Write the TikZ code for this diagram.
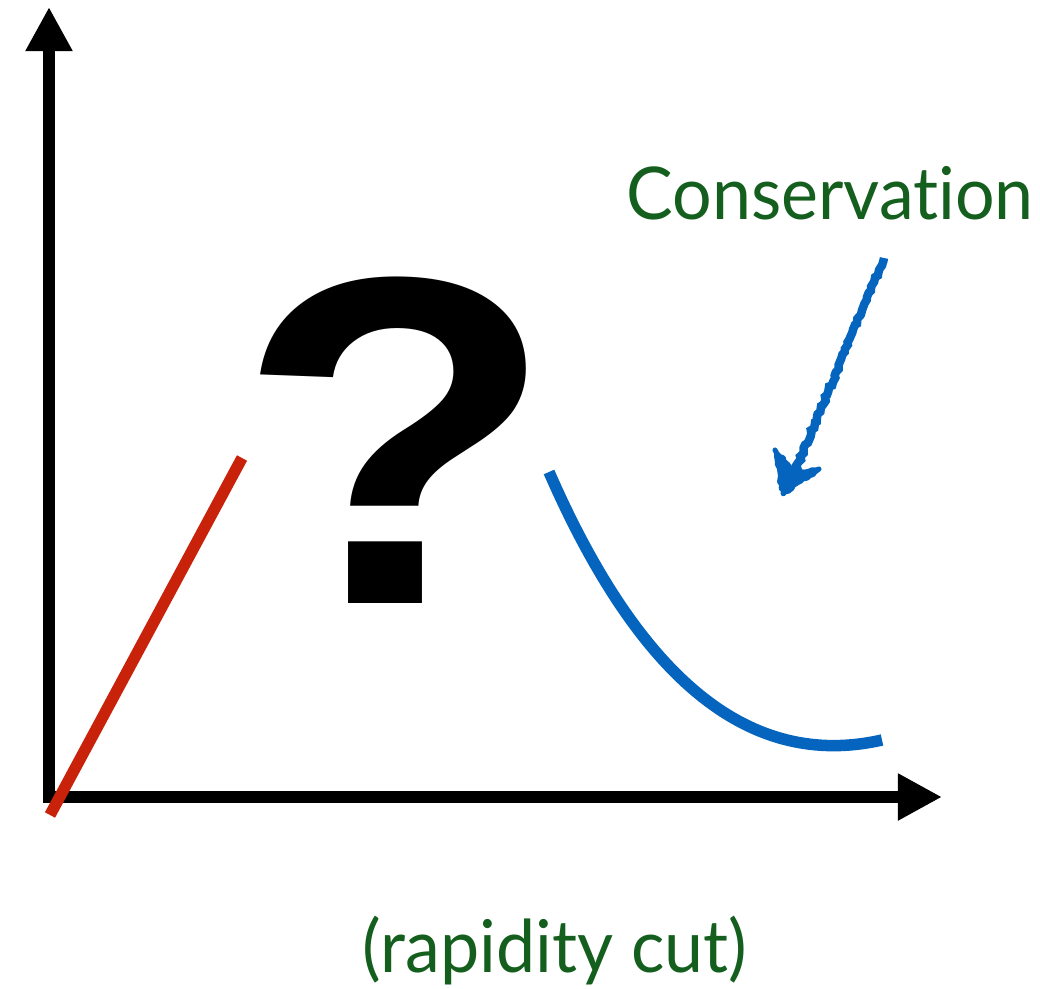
\documentclass[tikz,border=0pt]{standalone}
\usepackage{fontspec}
\newfontfamily\gillfont[Ligatures=NoCommon]{Lato}
\newfontfamily\qfont{Liberation Sans}
\definecolor{vert}{RGB}{20,94,30}
\definecolor{rouge}{RGB}{200,35,10}
\definecolor{bleu}{RGB}{5,101,190}
\usetikzlibrary{arrows.meta,decorations.pathmorphing}

\begin{document}
\begin{tikzpicture}[x=0.01cm,y=-0.01cm,
	axe/.style={line width=1.15mm,line join=miter,{Triangle[length=4.4mm,width=4.4mm]}-{Triangle[length=4.4mm,width=4.4mm]}},
	courbe/.style={line width=1.15mm},
	crayon/.style={bleu,decorate,decoration={random steps,segment length=1pt,amplitude=0.35pt}},
	titre/.style={font=\gillfont\fontsize{20.7}{24}\selectfont,text=vert,inner sep=0,xscale=0.96}]
	\useasboundingbox (0,0) rectangle (1040,989);
	\coordinate (o) at (49,797);
	\coordinate (ytop) at (49,7);
	\coordinate (xend) at (942,797);
	\coordinate (r0) at (50,815);
	\coordinate (r1) at (242,458);
	\coordinate (b0) at (549,472);
	\coordinate (b1) at (882,740);
	\coordinate (f0) at (884,258);
	\coordinate (f1) at (793,476);
	\draw[axe] (ytop) -- (o) -- (xend);
	\draw[courbe,rouge] (r0) -- (r1);
	\draw[courbe,bleu] (b0) .. controls (640,680) and (750,770) .. (b1);
	\node[font=\qfont\bfseries\fontsize{133}{135}\selectfont,xscale=1.12,anchor=base,inner sep=0] (q) at (396,604) {?};
	\node[titre,anchor=base west] (cons) at (626,220) {Conservation};
	\node[titre,anchor=base] (cut) at (555,972) {(rapidity cut)};
	\draw[crayon,line width=0.85mm] (f0) -- (f1);
	\filldraw[crayon,line width=0.5mm,line join=round] (775,450) -- (783,494) -- (819,469) -- (797,474) -- cycle;
\end{tikzpicture}
\end{document}
